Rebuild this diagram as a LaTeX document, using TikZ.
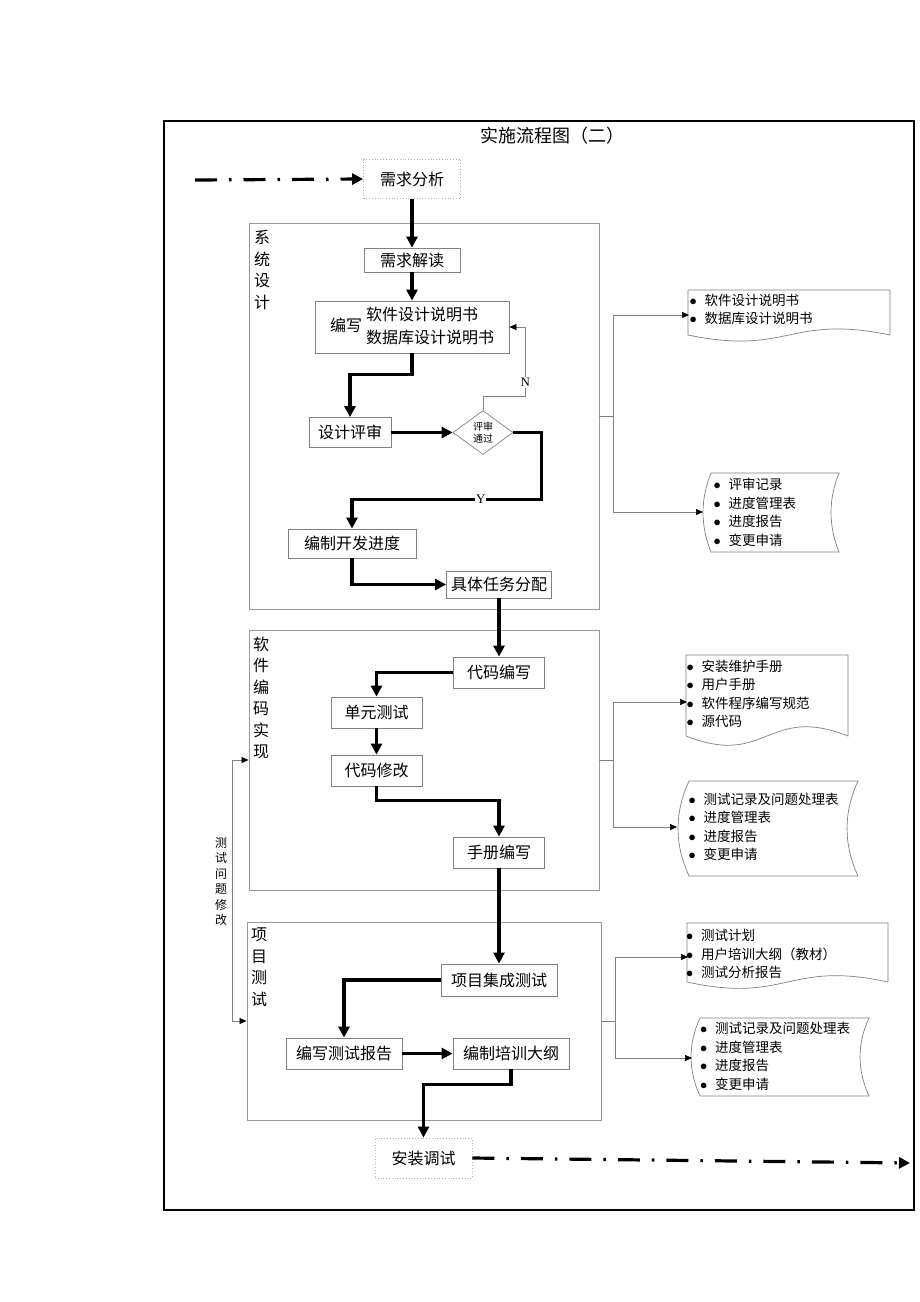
\documentclass[tikz,border=0pt]{standalone}
\usepackage{fontspec}
\setmainfont{Noto Sans CJK SC}
\newfontfamily\lat{Liberation Serif}
\usepackage{tikz}
\usetikzlibrary{arrows.meta,shapes.geometric,calc}

\newcommand{\fs}[1]{\fontsize{#1}{#1}\selectfont}
\newcommand{\itm}[1]{\makebox[15pt][l]{$\bullet$}#1}
\newcommand{\docwave}[5]{\draw[doc] (#1,#2) -- (#3,#2) -- (#3,#4) .. controls ({(#1+#3)/2},{#4-#5}) and ({(#1+#3)/2},{#4+#5}) .. (#1,#4) -- cycle;}
\newcommand{\doctape}[5]{\draw[doc] (#1,#2) -- (#3,#2) .. controls ({#3-1.33*#5},{#2+(#4-#2)/3}) and ({#3-1.33*#5},{#2+2*(#4-#2)/3}) .. (#3,#4) -- (#1,#4) .. controls ({#1-1.33*#5},{#2+2*(#4-#2)/3}) and ({#1-1.33*#5},{#2+(#4-#2)/3}) .. cycle;}

\begin{document}
\begin{tikzpicture}[x=1pt,y=-1pt,>={Triangle[length=11pt,width=11pt]},
	box/.style={draw=black!50,line width=0.8pt,fill=white,font=\fs{16},inner sep=0pt,minimum height=31pt},
	dbox/.style={box,draw=black!30,dotted,minimum height=39pt},
	grp/.style={draw=black!40,line width=0.8pt,inner sep=0pt},
	vtext/.style={align=center,inner sep=0pt,font=\fontsize{16}{21.5}\selectfont},
	flow/.style={->,line width=3.2pt},
	dashflow/.style={flow,dash pattern=on 22pt off 12pt on 2.5pt off 12pt},
	link/.style={draw=black!50,line width=0.7pt},
	linkarr/.style={link,-{Triangle[length=7pt,width=6pt,color=black]}},
	doc/.style={draw=black!50,line width=0.7pt},
	items/.style={align=left,inner sep=0pt,font=\fontsize{13.5}{18.5}\selectfont},
	yn/.style={fill=white,inner sep=1pt,font=\lat\fs{13}}]
		\useasboundingbox (0,0) rectangle (920,1302);
		\node[draw,line width=1.5pt,minimum width=750pt,minimum height=1089pt,inner sep=0pt] (fr) at (539,665.5) {};
		\node[font=\fs{18}] (title) at (552,136) {实施流程图（二）};
		
		\node[grp,minimum width=350pt,minimum height=386pt] (g1) at (424,416) {};
		\node[grp,minimum width=350pt,minimum height=260pt] (g2) at (424,760) {};
		\node[grp,minimum width=354pt,minimum height=198pt] (g3) at (424,1021) {};
		\node[vtext] (t1) at (262,270) {系\\统\\设\\计};
		\node[vtext] (t2) at (261,698) {软\\件\\编\\码\\实\\现};
		\node[vtext] (t3) at (259,967) {项\\目\\测\\试};
		
		\node[dbox,minimum width=97pt] (p1) at (412,179) {需求分析};
		\node[box,minimum width=96pt,minimum height=24pt] (p2) at (412,260) {需求解读};
		\node[box,minimum width=194pt,minimum height=52pt,font=\fontsize{16}{23}\selectfont] (p3) at (412,327) {编写\hspace{4pt}\begin{tabular}{@{}l@{}}软件设计说明书\\数据库设计说明书\end{tabular}\hspace{20pt}};
		\node[box,minimum width=82pt,minimum height=30pt] (p4) at (350,432.5) {设计评审};
		\node[draw=black!50,line width=0.7pt,diamond,aspect=1.36,inner sep=1pt,minimum width=60pt,minimum height=44pt,align=center,font=\fontsize{10}{12}\selectfont] (q1) at (483,432.5) {评审\\通过};
		\node[box,minimum width=128pt,minimum height=29pt] (p5) at (352,543.5) {编制开发进度};
		\node[box,minimum width=105pt,minimum height=27pt] (p6) at (499,584.5) {具体任务分配};
		\node[box,minimum width=91pt] (p7) at (499,672.5) {代码编写};
		\node[box,minimum width=91pt] (p8) at (376.5,712.5) {单元测试};
		\node[box,minimum width=91pt] (p9) at (376.5,770.5) {代码修改};
		\node[box,minimum width=91pt] (p10) at (499,852.5) {手册编写};
		\node[box,minimum width=116pt,minimum height=32pt] (p11) at (499,980) {项目集成测试};
		\node[box,minimum width=116pt] (p12) at (344,1053.5) {编写测试报告};
		\node[box,minimum width=116pt] (p13) at (511,1053.5) {编制培训大纲};
		\node[dbox,minimum width=97pt,minimum height=40pt] (p14) at (423.5,1158) {安装调试};
		
		\coordinate (s0) at (195,180);
		\coordinate (e0) at (910,1163);
		\draw[dashflow] (s0) -- (p1.west);
		\draw[flow] (p1) -- (p2);
		\draw[flow] (p2) -- (p3);
		\draw[flow] (p3.south) -- ++(0,21) -| (p4.north);
		\draw[flow] (p4) -- (q1);
		\draw[linkarr] (q1.north) -- ++(0,-14) -| node[pos=0.6,yn] {N} ([xshift=16pt]p3.east) -- (p3.east);
		\draw[flow] (q1.east) -- ++(28,0) |- node[pos=0.66,yn] {Y} ([yshift=29pt]p5.north) -- (p5.north);
		\draw[flow] (p5.south) |- (p6.west);
		\draw[flow] (p6) -- (p7);
		\draw[flow] (p7.west) -| (p8.north);
		\draw[flow] (p8) -- (p9);
		\draw[flow] (p9.south) -- ++(0,14) -| (p10.north);
		\draw[flow] (p10) -- (p11);
		\draw[flow] (p11.west) -| (p12.north);
		\draw[flow] (p12) -- (p13);
		\draw[flow] (p13.south) -- ++(0,15) -| (p14.north);
		\draw[dashflow] (p14.east) -- (e0);
		
		\draw[link,{Triangle[length=7pt,width=6pt,color=black]}-{Triangle[length=7pt,width=6pt,color=black]}] (g2.west) -- ++(-16,0) |- (g3.west);
		\node[align=center,inner sep=0pt,font=\fontsize{12}{15.4}\selectfont] (fb) at (221,881.5) {测\\试\\问\\题\\修\\改};
		
		\docwave{688}{290}{890}{335}{21}
		\doctape{711}{473}{839}{552}{8}
		\docwave{686}{655}{848}{736}{32}
		\doctape{689}{781}{858}{876}{11}
		\docwave{687}{923}{888}{982}{22}
		\doctape{700}{1018}{869}{1096}{9}
		\node[items,anchor=west] (d1) at (689.5,309.5) {\itm{软件设计说明书}\\\itm{数据库设计说明书}};
		\node[items,anchor=west] (d2) at (713.5,512.5) {\itm{评审记录}\\\itm{进度管理表}\\\itm{进度报告}\\\itm{变更申请}};
		\node[items,anchor=west] (d3) at (686.5,694) {\itm{安装维护手册}\\\itm{用户手册}\\\itm{软件程序编写规范}\\\itm{源代码}};
		\node[items,anchor=west] (d4) at (688.5,827) {\itm{测试记录及问题处理表}\\\itm{进度管理表}\\\itm{进度报告}\\\itm{变更申请}};
		\node[items,anchor=west] (d5) at (686,954) {\itm{测试计划}\\\itm{用户培训大纲（教材）}\\\itm{测试分析报告}};
		\node[items,anchor=west] (d6) at (700,1056.5) {\itm{测试记录及问题处理表}\\\itm{进度管理表}\\\itm{进度报告}\\\itm{变更申请}};
		\coordinate (d1in) at (689,315);
		\coordinate (d2in) at (703,512);
		\coordinate (d3in) at (687,702);
		\coordinate (d4in) at (677,827);
		\coordinate (d5in) at (688,957);
		\coordinate (d6in) at (692,1058);
		
		\draw[link] (g1.east) -- ++(14,0) coordinate (j1);
		\draw[linkarr] (j1) |- (d1in);
		\draw[linkarr] (j1) |- (d2in);
		\draw[link] (g2.east) -- ++(14,0) coordinate (j2);
		\draw[linkarr] (j2) |- (d3in);
		\draw[linkarr] (j2) |- (d4in);
		\draw[link] (g3.east) -- ++(14,0) coordinate (j3);
		\draw[linkarr] (j3) |- (d5in);
		\draw[linkarr] (j3) |- (d6in);
\end{tikzpicture}
\end{document}
